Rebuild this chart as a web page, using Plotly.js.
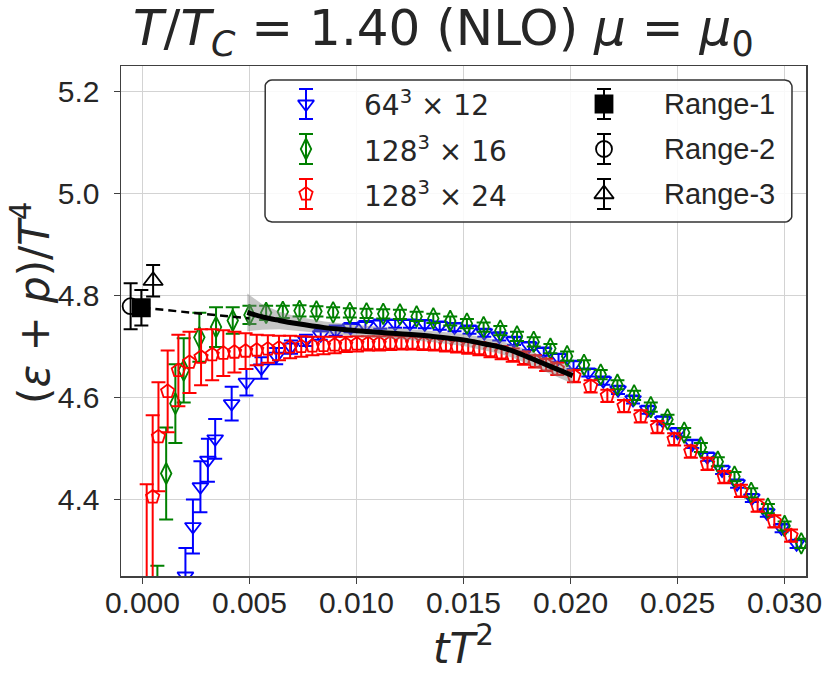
<!DOCTYPE html>
<html>
<head>
<meta charset="utf-8">
<script src="https://cdn.plot.ly/plotly-3.0.1.min.js"></script>
<style>html,body{margin:0;padding:0;background:#fff;}#chart{width:831px;height:674px;}</style>
</head>
<body>
<div id="chart"></div>
<script>
// ---------- data ----------
const blueX = [0.00201,0.00236,0.00271,0.00306,0.00340,0.00417,0.00486,0.00556,0.00625,0.00694,0.00764,0.00833,0.00903,0.00972,0.01042,0.01111,0.01181,0.01250,0.01319,0.01389,0.01458,0.01528,0.01597,0.01667,0.01736,0.01806,0.01875,0.01944,0.02014,0.02083,0.02153,0.02222,0.02292,0.02361,0.02431,0.02500,0.02569,0.02639,0.02708,0.02778,0.02847,0.02917,0.02986,0.03056];
const blueY = [4.250,4.347,4.425,4.477,4.519,4.588,4.630,4.658,4.681,4.699,4.712,4.723,4.731,4.737,4.741,4.744,4.745,4.745,4.744,4.741,4.738,4.733,4.727,4.720,4.711,4.701,4.690,4.678,4.664,4.649,4.633,4.615,4.596,4.576,4.555,4.532,4.509,4.484,4.458,4.431,4.403,4.374,4.344,4.313];
const blueErr = [0.055,0.053,0.050,0.042,0.039,0.033,0.026,0.021,0.016,0.013,0.011,0.010,0.010,0.009,0.009,0.009,0.008,0.008,0.008,0.008,0.008,0.008,0.008,0.008,0.008,0.008,0.008,0.008,0.008,0.008,0.008,0.008,0.008,0.008,0.008,0.008,0.008,0.008,0.008,0.008,0.008,0.008,0.008,0.008];

const greenX = [0.00070,0.00111,0.00154,0.00193,0.00266,0.00344,0.00422,0.00500,0.00578,0.00656,0.00734,0.00813,0.00891,0.00969,0.01047,0.01125,0.01203,0.01281,0.01359,0.01438,0.01516,0.01594,0.01672,0.01750,0.01828,0.01906,0.01984,0.02063,0.02141,0.02219,0.02297,0.02375,0.02453,0.02531,0.02609,0.02688,0.02766,0.02844,0.02922,0.03000,0.03078];
const greenY = [4.150,4.451,4.588,4.653,4.718,4.738,4.751,4.762,4.766,4.768,4.770,4.769,4.767,4.766,4.765,4.764,4.763,4.759,4.755,4.750,4.745,4.738,4.731,4.720,4.709,4.696,4.681,4.664,4.645,4.625,4.604,4.581,4.557,4.531,4.502,4.474,4.445,4.413,4.382,4.348,4.314];
const greenErr = [0.120,0.090,0.077,0.063,0.048,0.039,0.026,0.018,0.014,0.012,0.011,0.010,0.010,0.009,0.009,0.009,0.009,0.009,0.009,0.009,0.009,0.009,0.009,0.009,0.009,0.009,0.009,0.009,0.009,0.009,0.009,0.009,0.009,0.009,0.009,0.009,0.009,0.009,0.009,0.009,0.009];

const redX = [0.00020,0.00048,0.00075,0.00118,0.00168,0.00220,
  0.00274,0.00326,0.00378,0.00430,0.00482,0.00534,0.00586,0.00638,0.00690,0.00742,0.00794,0.00846,0.00898,0.00950,0.01002,0.01054,0.01106,0.01158,0.01210,0.01262,0.01314,0.01366,0.01418,0.01470,0.01522,0.01574,0.01626,0.01678,0.01730,0.01782,0.01834,0.01886,0.01938,
  0.02016,0.02094,0.02172,0.02250,0.02328,0.02406,0.02484,0.02562,0.02640,0.02718,0.02796,0.02874,0.02952,0.03030];
const redY = [4.150,4.405,4.523,4.612,4.653,4.669,
  4.679,4.684,4.687,4.689,4.691,4.693,4.695,4.697,4.699,4.700,4.701,4.702,4.703,4.704,4.705,4.706,4.706,4.707,4.707,4.707,4.706,4.705,4.703,4.701,4.699,4.696,4.692,4.688,4.683,4.677,4.671,4.664,4.656,
  4.642,4.622,4.603,4.583,4.563,4.542,4.518,4.494,4.470,4.444,4.417,4.388,4.357,4.329];
const redErr = [0.280,0.160,0.107,0.080,0.070,0.060,
  0.055,0.050,0.045,0.040,0.035,0.030,0.027,0.024,0.022,0.020,0.018,0.017,0.016,0.015,0.015,0.014,0.014,0.014,0.013,0.013,0.013,0.013,0.013,0.013,0.013,0.013,0.013,0.013,0.013,0.013,0.012,0.012,0.012,
  0.012,0.012,0.012,0.012,0.012,0.012,0.012,0.012,0.012,0.012,0.012,0.012,0.012,0.012];

// continuum-extrapolation fit (solid) and its band
const fitX  = [0.0049,0.0056,0.0064,0.0072,0.0085,0.0100,0.0120,0.0135,0.0150,0.0160,0.0167,0.0175,0.0182,0.0190,0.0201];
const fitY  = [4.767,4.758,4.751,4.745,4.737,4.731,4.725,4.720,4.713,4.705,4.699,4.688,4.676,4.662,4.643];
const fitHi = [4.804,4.783,4.768,4.759,4.749,4.742,4.736,4.731,4.725,4.717,4.712,4.701,4.690,4.677,4.659];
const fitLo = [4.730,4.733,4.734,4.731,4.725,4.720,4.714,4.709,4.701,4.693,4.686,4.675,4.662,4.647,4.627];
// dashed t->0 extrapolation
const extX = [0.0000,0.0050];
const extY = [4.776,4.755];

// t->0 results
const rangeNames = ['Range-1','Range-2','Range-3'];
const rangeX   = [-0.00005,-0.00055,0.00050];
const rangeY   = [4.776,4.779,4.829];
const rangeErr = [0.035,0.045,0.031];

const seriesNames = ['64<sup>3</sup> × 12','128<sup>3</sup> × 16','128<sup>3</sup> × 24'];

const xTicks = [0.000,0.005,0.010,0.015,0.020,0.025,0.030];
const xTickText = ['0.000','0.005','0.010','0.015','0.020','0.025','0.030'];
const yTicks = [4.4,4.6,4.8,5.0,5.2];
const yTickText = ['4.4','4.6','4.8','5.0','5.2'];

// ---------- styling / layout ----------
const W = 831, H = 674;
const PL = 121, PR = 806, PT = 66, PB = 576;
const pw = PR - PL, ph = PB - PT;
const px2x = p => (p - PL) / pw;
const px2y = p => (PB - p) / ph;

const colors = ['#0000ff', '#008000', '#ff0000'];
const symbols = ['triangle-down-open', 'diamond-tall-open', 'pentagon-open'];
const msizes = [14, 15, 14];
const rangeSymbols = ['square', 'circle-open', 'triangle-up-open'];
const rangeSizes = [17, 16, 17];

function dataTrace(x, y, e, i) {
  return {
    type: 'scatter', mode: 'markers', x: x, y: y,
    error_y: {type: 'data', array: e, visible: true, color: colors[i], thickness: 2, width: 7},
    marker: {symbol: symbols[i], size: msizes[i], color: colors[i], line: {color: colors[i], width: 1.8}},
    cliponaxis: true, showlegend: false, hoverinfo: 'skip'
  };
}

const traces = [
  dataTrace(blueX, blueY, blueErr, 0),
  dataTrace(greenX, greenY, greenErr, 1),
  dataTrace(redX, redY, redErr, 2),
  {type: 'scatter', mode: 'lines', x: fitX, y: fitLo, line: {width: 0, color: 'rgba(0,0,0,0)'}, hoverinfo: 'skip', showlegend: false},
  {type: 'scatter', mode: 'lines', x: fitX, y: fitHi, fill: 'tonexty', fillcolor: 'rgba(128,128,128,0.45)', line: {width: 0, color: 'rgba(0,0,0,0)'}, hoverinfo: 'skip', showlegend: false},
  {type: 'scatter', mode: 'lines', x: extX, y: extY, line: {color: '#000', width: 2.5, dash: '8px,5px'}, hoverinfo: 'skip', showlegend: false},
  {type: 'scatter', mode: 'lines', x: fitX, y: fitY, line: {color: '#000', width: 5, shape: 'spline'}, hoverinfo: 'skip', showlegend: false}
];
for (let i = 0; i < 3; i++) {
  traces.push({
    type: 'scatter', mode: 'markers', x: [rangeX[i]], y: [rangeY[i]],
    error_y: {type: 'data', array: [rangeErr[i]], visible: true, color: '#000', thickness: 2, width: 7},
    marker: {symbol: rangeSymbols[i], size: rangeSizes[i], color: '#000', line: {color: '#000', width: 1.8}},
    showlegend: false, hoverinfo: 'skip'
  });
}

// ---------- hand-drawn legend on a pixel-space overlay axis ----------
const LB = {x0: 265, y0: 80, x1: 792, y1: 222, r: 7};
const legRows = [104, 149, 194];
const legCol1 = {mark: 306, text: 362};
const legCol2 = {mark: 604, text: 662};
const legErrPx = 15;

(function () {
  const bx = [], by = [];
  const corners = [
    [LB.x1 - LB.r, LB.y0 + LB.r, -90, 0],
    [LB.x1 - LB.r, LB.y1 - LB.r, 0, 90],
    [LB.x0 + LB.r, LB.y1 - LB.r, 90, 180],
    [LB.x0 + LB.r, LB.y0 + LB.r, 180, 270]
  ];
  corners.forEach(c => {
    for (let k = 0; k <= 6; k++) {
      const a = (c[2] + (c[3] - c[2]) * k / 6) * Math.PI / 180;
      bx.push(c[0] + LB.r * Math.cos(a));
      by.push(c[1] + LB.r * Math.sin(a));
    }
  });
  bx.push(bx[0]); by.push(by[0]);
  traces.push({type: 'scatter', mode: 'lines', x: bx, y: by, xaxis: 'x2', yaxis: 'y2',
    fill: 'toself', fillcolor: 'rgba(255,255,255,0.85)', line: {color: '#333', width: 1.5},
    hoverinfo: 'skip', showlegend: false, cliponaxis: false});
  for (let i = 0; i < 3; i++) {
    traces.push({type: 'scatter', mode: 'markers', x: [legCol1.mark], y: [legRows[i]], xaxis: 'x2', yaxis: 'y2',
      error_y: {type: 'data', array: [legErrPx], visible: true, color: colors[i], thickness: 2, width: 7},
      marker: {symbol: symbols[i], size: msizes[i], color: colors[i], line: {color: colors[i], width: 1.8}},
      hoverinfo: 'skip', showlegend: false, cliponaxis: false});
    traces.push({type: 'scatter', mode: 'markers', x: [legCol2.mark], y: [legRows[i]], xaxis: 'x2', yaxis: 'y2',
      error_y: {type: 'data', array: [legErrPx], visible: true, color: '#000', thickness: 2, width: 7},
      marker: {symbol: rangeSymbols[i], size: rangeSizes[i], color: '#000', line: {color: '#000', width: 1.8}},
      hoverinfo: 'skip', showlegend: false, cliponaxis: false});
  }
})();

const mathFont = 'DejaVu Sans, Noto Sans, sans-serif';
const tickFont = {family: 'Liberation Sans, Arial, sans-serif', size: 30, color: '#262626'};

const annotations = [
  {text: '<i>T</i>/<i>T</i><sub><i>C</i></sub> = 1.40 (NLO) <i>μ</i> = <i>μ</i><sub>0</sub>',
   xref: 'paper', yref: 'paper', x: px2x(443), y: px2y(31), xanchor: 'center', yanchor: 'middle',
   showarrow: false, font: {family: mathFont, size: 50, color: '#262626'}},
  {text: '(<i>ε</i> + <i>p</i>)/<i>T</i><sup>4</sup>', textangle: -90,
   xref: 'paper', yref: 'paper', x: px2x(31), y: px2y(303), xanchor: 'center', yanchor: 'middle',
   showarrow: false, font: {family: mathFont, size: 42, color: '#262626'}},
  {text: '<i>tT</i><sup>2</sup>',
   xref: 'paper', yref: 'paper', x: px2x(463), y: px2y(645), xanchor: 'center', yanchor: 'middle',
   showarrow: false, font: {family: mathFont, size: 42, color: '#262626'}}
];
for (let i = 0; i < 3; i++) {
  annotations.push({text: seriesNames[i], xref: 'paper', yref: 'paper', x: px2x(legCol1.text), y: px2y(legRows[i]),
    xanchor: 'left', yanchor: 'middle', showarrow: false, font: {family: mathFont, size: 28, color: '#262626'}});
  annotations.push({text: rangeNames[i], xref: 'paper', yref: 'paper', x: px2x(legCol2.text), y: px2y(legRows[i]),
    xanchor: 'left', yanchor: 'middle', showarrow: false, font: {family: 'Liberation Sans, Arial, sans-serif', size: 29, color: '#262626'}});
}

const axisCommon = {
  showgrid: true, gridcolor: '#d3d3d3', gridwidth: 1.5, zeroline: false,
  showline: true, mirror: true, linecolor: '#404040', linewidth: 1.5,
  ticks: 'outside', ticklen: 6, tickwidth: 1.5, tickcolor: '#404040',
  tickfont: tickFont, fixedrange: true
};

const layout = {
  width: W, height: H,
  margin: {l: PL, r: W - PR, t: PT, b: H - PB, pad: 0},
  paper_bgcolor: '#fff', plot_bgcolor: '#fff',
  showlegend: false,
  xaxis: Object.assign({}, axisCommon, {range: [-0.001, 0.031], tickmode: 'array', tickvals: xTicks, ticktext: xTickText, ticklabelstandoff: -7}),
  yaxis: Object.assign({}, axisCommon, {range: [4.25, 5.25], tickmode: 'array', tickvals: yTicks, ticktext: yTickText, ticklabelstandoff: 8}),
  xaxis2: {overlaying: 'x', anchor: 'y2', range: [PL, PR], visible: false, showgrid: false, zeroline: false, fixedrange: true},
  yaxis2: {overlaying: 'y', anchor: 'x2', range: [PB, PT], visible: false, showgrid: false, zeroline: false, fixedrange: true},
  annotations: annotations
};

Plotly.newPlot('chart', traces, layout, {staticPlot: true, displayModeBar: false});
</script>
</body>
</html>
